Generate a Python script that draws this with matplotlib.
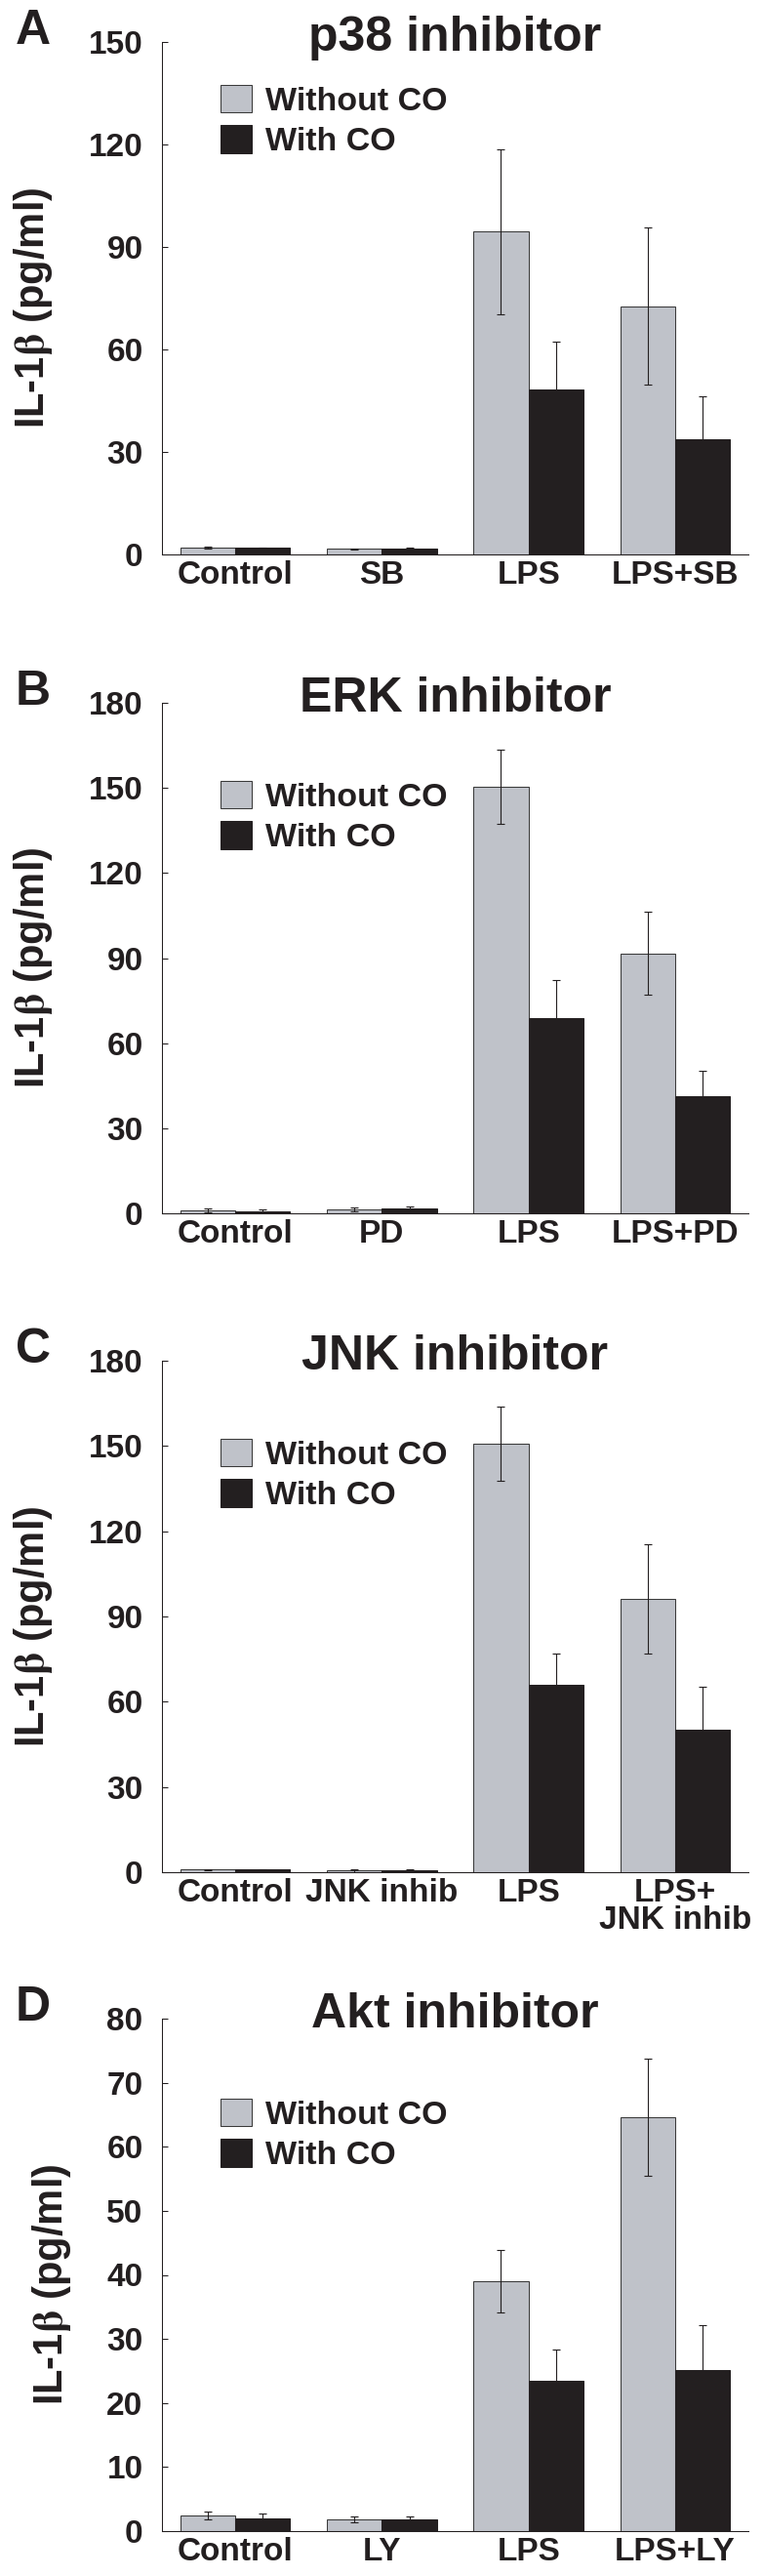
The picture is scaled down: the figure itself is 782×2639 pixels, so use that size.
import numpy as np
import matplotlib
matplotlib.use("Agg")
import matplotlib.pyplot as plt
from matplotlib.patches import Patch

plt.rcParams['font.family'] = ['Liberation Sans', 'DejaVu Sans']
plt.rcParams['font.weight'] = 'bold'
plt.rcParams['axes.labelweight'] = 'bold'
plt.rcParams['mathtext.fontset'] = 'stix'

INK = '#231f20'
GRAY = '#bfc2c9'

# panel A - p38
groups_a = ['Control', 'SB', 'LPS', 'LPS+SB']
a_without = [2.1, 1.6, 94.5, 72.7]
a_without_err = [0.3, 0.2, 24.2, 23.1]
a_with = [1.9, 1.7, 48.2, 33.7]
a_with_err = [0.2, 0.2, 14.0, 12.6]

# panel B - ERK
groups_b = ['Control', 'PD', 'LPS', 'LPS+PD']
b_without = [1.1, 1.4, 150.4, 91.6]
b_without_err = [0.7, 0.6, 13.0, 14.6]
b_with = [0.7, 1.8, 68.9, 41.2]
b_with_err = [0.8, 0.7, 13.4, 9.1]

# panel C - JNK
groups_c = ['Control', 'JNK inhib', 'LPS', 'LPS+\nJNK inhib']
c_without = [0.9, 0.6, 150.8, 96.2]
c_without_err = [0.3, 0.6, 13.0, 19.2]
c_with = [0.9, 0.6, 66.0, 50.3]
c_with_err = [0.2, 0.3, 11.0, 15.1]

# panel D - Akt
groups_d = ['Control', 'LY', 'LPS', 'LPS+LY']
d_without = [2.5, 1.85, 39.0, 64.6]
d_without_err = [0.6, 0.5, 4.9, 9.2]
d_with = [2.05, 1.85, 23.4, 25.1]
d_with_err = [0.7, 0.45, 5.0, 7.1]

W, H = 782, 2639
fig = plt.figure(figsize=(W / 100, H / 100), dpi=100)


def add_axes_px(top, bottom, left=166, right=767):
	return fig.add_axes([left / W, (H - bottom) / H, (right - left) / W, (bottom - top) / H])


def draw_panel(ax, letter, title, groups, without, without_err, with_, with_err, ymax, step, legend_y):
	x = np.arange(len(groups))
	w = 0.375
	ax.bar(x - w / 2, without, w, color=GRAY, edgecolor='#3a3a3a', linewidth=0.75, zorder=2)
	ax.bar(x + w / 2, with_, w, color=INK, edgecolor=INK, linewidth=0.75, zorder=2)
	ax.errorbar(x - w / 2, without, yerr=without_err, fmt='none', ecolor=INK, elinewidth=0.8, capsize=3.2, capthick=0.8, zorder=3)
	ax.errorbar(x + w / 2, with_, yerr=with_err, fmt='none', ecolor=INK, elinewidth=0.8, capsize=3.2, capthick=0.8, zorder=3)

	ax.set_xlim(-0.5, 3.5)
	ax.set_ylim(0, ymax)
	ax.set_yticks(np.arange(0, ymax + 1, step))
	ax.set_yticklabels([str(v) for v in np.arange(0, ymax + 1, step)], fontsize=24, fontweight='bold', color=INK)
	ax.set_xticks(x)
	ax.set_xticklabels(groups, fontsize=24, fontweight='bold', color=INK, linespacing=0.9)
	for s in ['top', 'right']:
		ax.spines[s].set_visible(False)
	for s in ['left', 'bottom']:
		ax.spines[s].set_linewidth(0.75)
		ax.spines[s].set_color(INK)
	ax.tick_params(axis='y', direction='in', length=4.3, width=0.75, pad=14, colors=INK)
	ax.tick_params(axis='x', length=0, pad=4)

	ax.set_ylabel(r'IL-1$\mathrm{\beta}$ (pg/ml)', fontsize=30, fontweight='bold', color=INK, labelpad=25, y=0.481)
	ax.text(0.5, 1 - 9 / 525, title, transform=ax.transAxes, ha='center', va='baseline', fontsize=36, fontweight='bold', color=INK)
	ax.text(-150 / 601, 1 - 2 / 525, letter, transform=ax.transAxes, ha='left', va='baseline', fontsize=36, fontweight='bold', color=INK)

	handles = [Patch(facecolor=GRAY, edgecolor='#3a3a3a', linewidth=0.75, label='Without CO'),
		Patch(facecolor=INK, edgecolor=INK, linewidth=0.75, label='With CO')]
	ax.legend(handles=handles, loc='upper left', bbox_to_anchor=(0.1, legend_y), frameon=False,
		borderpad=0, borderaxespad=0, handlelength=0.94, handleheight=0.9, handletextpad=0.42,
		labelspacing=0.25, prop={'size': 24.5, 'weight': 'bold'}, labelcolor=INK)


ax_a = add_axes_px(43, 568)
draw_panel(ax_a, 'A', 'p38 inhibitor', groups_a, a_without, a_without_err, a_with, a_with_err, 150, 30, 1 - 44 / 525)

ax_b = add_axes_px(720, 1243)
draw_panel(ax_b, 'B', 'ERK inhibitor', groups_b, b_without, b_without_err, b_with, b_with_err, 180, 30, 1 - 80 / 523)

ax_c = add_axes_px(1394, 1918)
draw_panel(ax_c, 'C', 'JNK inhibitor', groups_c, c_without, c_without_err, c_with, c_with_err, 180, 30, 1 - 80 / 524)

ax_d = add_axes_px(2068, 2593)
draw_panel(ax_d, 'D', 'Akt inhibitor', groups_d, d_without, d_without_err, d_with, d_with_err, 80, 10, 1 - 82 / 525)

fig.savefig('out.png', dpi=100)
